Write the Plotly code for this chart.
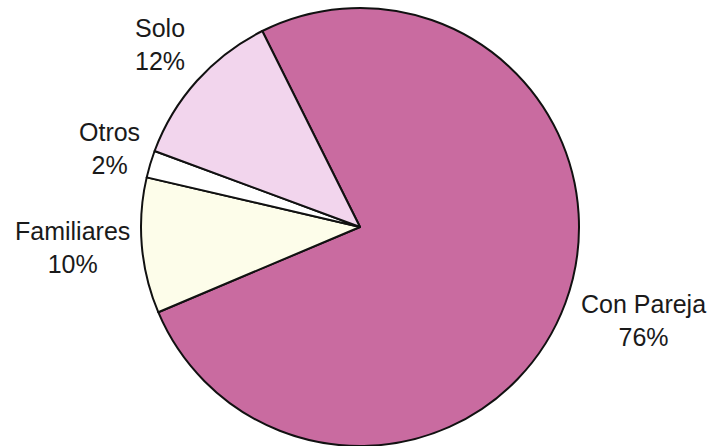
import plotly.graph_objects as go

# Living arrangement shares (percent)
labels = ["Con Pareja", "Familiares", "Otros", "Solo"]
values = [76, 10, 2, 12]
colors = ["#c96ba0", "#fdfdea", "#ffffff", "#f2d5ed"]

# Label anchor points (pixels from the top-left of the 713x446 canvas)
label_pos = {
    "Con Pareja": (643, 320),
    "Familiares": (72, 247),
    "Otros": (109, 149),
    "Solo": (160, 45),
}

W, H = 713, 446
cx, cy, r = 360, 227, 219

fig = go.Figure(
    go.Pie(
        labels=labels,
        values=values,
        sort=False,
        direction="clockwise",
        rotation=-26.5,
        marker=dict(colors=colors, line=dict(color="#111111", width=2)),
        textinfo="none",
        hoverinfo="label+percent",
        showlegend=False,
        domain=dict(
            x=[(cx - r) / W, (cx + r) / W],
            y=[(H - cy - r) / H, (H - cy + r) / H],
        ),
    )
)

for lab, val in zip(labels, values):
    px, py = label_pos[lab]
    fig.add_annotation(
        x=px / W,
        y=1 - py / H,
        xref="paper",
        yref="paper",
        text=f"{lab}<br>{val}%",
        showarrow=False,
        xanchor="center",
        yanchor="middle",
        align="center",
        font=dict(family="Liberation Sans, Arial, sans-serif", size=25, color="#1a1a1a"),
    )

fig.update_layout(
    width=W,
    height=H,
    margin=dict(l=0, r=0, t=0, b=0),
    paper_bgcolor="white",
    plot_bgcolor="white",
)

fig.write_html("out.html")
